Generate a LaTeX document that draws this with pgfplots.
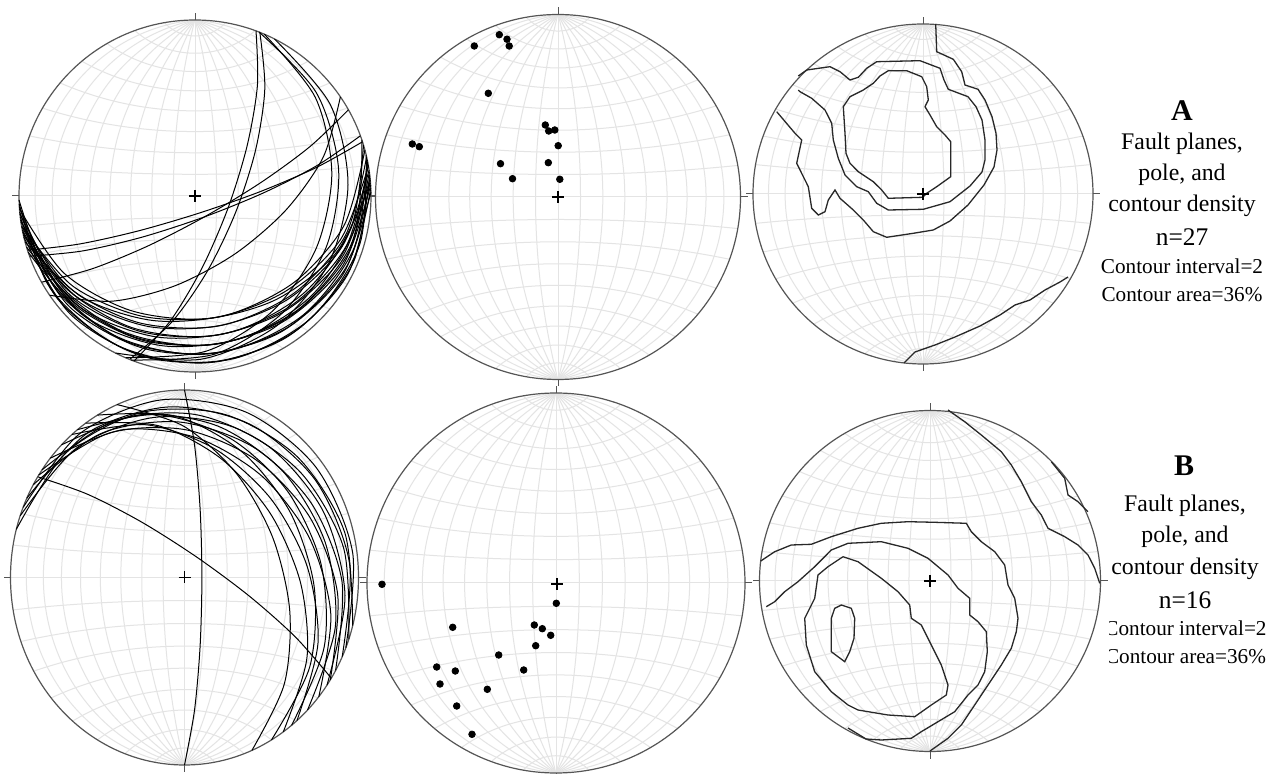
\documentclass[border=0pt]{standalone}
\usepackage{pgfplots}
\pgfplotsset{compat=1.18}
\usepackage{fontspec}
\setmainfont{Liberation Serif}
\definecolor{gridc}{RGB}{228,228,228}
\definecolor{primc}{RGB}{85,85,85}
\definecolor{contc}{RGB}{40,40,40}
\pgfplotsset{gc/.style={black, line width=0.5pt, smooth}, ct/.style={contc, line width=0.65pt}}
\newcommand{\mer}[6]{%
 \draw[gridc, line width=0.5pt] (axis cs:{#1-#5*#3},#2) ellipse [x radius={#6*#3}, y radius={#6*#4}];
 \draw[gridc, line width=0.5pt] (axis cs:{#1+#5*#3},#2) ellipse [x radius={#6*#3}, y radius={#6*#4}];}
\newcommand{\lat}[6]{%
 \draw[gridc, line width=0.5pt] (axis cs:#1,{#2-#5*#4}) ellipse [x radius={#6*#3}, y radius={#6*#4}];
 \draw[gridc, line width=0.5pt] (axis cs:#1,{#2+#5*#4}) ellipse [x radius={#6*#3}, y radius={#6*#4}];}
\newcommand{\net}[4]{%
 \fill[white] (axis cs:#1,#2) ellipse [x radius=#3, y radius=#4];
 \begin{scope}
 \clip (axis cs:#1,#2) ellipse [x radius=#3, y radius=#4];
 \mer{#1}{#2}{#3}{#4}{0.09551}{1.00455}\mer{#1}{#2}{#3}{#4}{0.21082}{1.02198}
 \mer{#1}{#2}{#3}{#4}{0.35355}{1.06066}\mer{#1}{#2}{#3}{#4}{0.53775}{1.13542}
 \mer{#1}{#2}{#3}{#4}{0.79187}{1.27557}\mer{#1}{#2}{#3}{#4}{1.18300}{1.54900}
 \mer{#1}{#2}{#3}{#4}{1.91320}{2.15880}\mer{#1}{#2}{#3}{#4}{3.99350}{4.11680}
 \lat{#1}{#2}{#3}{#4}{1.14590}{0.23686}\lat{#1}{#2}{#3}{#4}{1.33051}{0.51935}
 \lat{#1}{#2}{#3}{#4}{1.57312}{0.86601}\lat{#1}{#2}{#3}{#4}{1.90887}{1.31120}
 \lat{#1}{#2}{#3}{#4}{2.40742}{1.92373}\lat{#1}{#2}{#3}{#4}{3.23218}{2.86615}
 \lat{#1}{#2}{#3}{#4}{4.87189}{4.62631}\lat{#1}{#2}{#3}{#4}{9.77188}{9.64862}
 \draw[gridc, line width=0.5pt] (axis cs:#1,{#2-#4}) -- (axis cs:#1,{#2+#4});
 \draw[gridc, line width=0.5pt] (axis cs:{#1-#3},#2) -- (axis cs:{#1+#3},#2);
 \end{scope}
 \draw[primc, line width=0.6pt] (axis cs:#1,#2) ellipse [x radius=#3, y radius=#4];
 \draw[primc, line width=0.5pt] (axis cs:#1,{#2-#4}) -- (axis cs:#1,{#2-#4-7});
 \draw[primc, line width=0.5pt] (axis cs:#1,{#2+#4}) -- (axis cs:#1,{#2+#4+7});
 \draw[primc, line width=0.5pt] (axis cs:{#1-#3},#2) -- (axis cs:{#1-#3-7},#2);
 \draw[primc, line width=0.5pt] (axis cs:{#1+#3},#2) -- (axis cs:{#1+#3+7},#2);
}
\newcommand{\plus}[2]{%
 \draw[black, line width=0.55pt] (axis cs:{#1-6},#2) -- (axis cs:{#1+6},#2);
 \draw[black, line width=0.55pt] (axis cs:#1,{#2-6}) -- (axis cs:#1,{#2+6});}
\begin{document}
\begin{tikzpicture}
\begin{axis}[at={(0,0)}, anchor=south west, scale only axis,
  width=642.5pt, height=387pt, xmin=0, xmax=1285, ymin=0, ymax=774,
  y dir=reverse, hide axis, clip=false]
% ---------- text ----------
\node[anchor=base, font=\fontsize{15}{18}\selectfont\bfseries] at (axis cs:1182,121) {A};
\node[anchor=base, font=\fontsize{11.9}{14}\selectfont] at (axis cs:1182,150) {Fault planes,};
\node[anchor=base, font=\fontsize{11.9}{14}\selectfont] at (axis cs:1182,180.7) {pole, and};
\node[anchor=base, font=\fontsize{11.9}{14}\selectfont] at (axis cs:1182,211.7) {contour density};
\node[anchor=base, font=\fontsize{12.7}{15}\selectfont] at (axis cs:1182,246) {n=27};
\node[anchor=base, font=\fontsize{10.6}{13}\selectfont] at (axis cs:1182,274) {Contour interval=2};
\node[anchor=base, font=\fontsize{10.6}{13}\selectfont] at (axis cs:1182,301.7) {Contour area=36\%};
\node[anchor=base, font=\fontsize{15}{18}\selectfont\bfseries] at (axis cs:1184,476) {B};
\node[anchor=base, font=\fontsize{11.9}{14}\selectfont] at (axis cs:1185,511.7) {Fault planes,};
\node[anchor=base, font=\fontsize{11.9}{14}\selectfont] at (axis cs:1185,542.7) {pole, and};
\node[anchor=base, font=\fontsize{11.9}{14}\selectfont] at (axis cs:1185,574.3) {contour density};
\node[anchor=base, font=\fontsize{12.7}{15}\selectfont] at (axis cs:1185,608.3) {n=16};
\node[anchor=base, font=\fontsize{10.6}{13}\selectfont] at (axis cs:1185.5,635.7) {Contour interval=2};
\node[anchor=base, font=\fontsize{10.6}{13}\selectfont] at (axis cs:1185.5,663.3) {Contour area=36\%};
\fill[white] (axis cs:1093,600) rectangle (axis cs:1108.5,675);
% ---------- nets ----------
\net{195}{196}{176}{176}
\net{558}{197}{182.5}{182.5}
\net{923}{194}{170}{170}
\net{184.5}{577.5}{174}{187.5}
\net{556}{583}{189}{190}
\net{930}{581}{170.5}{170.5}
% ---------- A: fault planes (n=27) ----------
\addplot[gc] coordinates {(256.0,30.9) (257.4,85.5) (247.1,145.9) (228.0,208.2) (202.1,267.9) (170.6,320.5) (134.0,361.1)};
\addplot[gc] coordinates {(259.9,33.0) (264.8,88.9) (255.6,150.0) (235.7,212.2) (207.4,271.1) (172.0,321.8) (130.1,359.0)};
\addplot[gc] coordinates {(362.5,141.8) (316.7,167.3) (261.3,191.2) (200.4,212.7) (138.4,230.9) (79.5,244.0) (27.5,250.2)};
\addplot[gc] coordinates {(360.4,135.8) (316.8,165.7) (262.8,193.2) (202.8,217.5) (141.2,237.4) (82.2,251.0) (29.6,256.2)};
\addplot[gc] coordinates {(348.4,109.8) (310.2,146.4) (261.4,182.2) (206.2,215.9) (148.7,245.6) (92.7,268.6) (41.6,282.2)};
\addplot[gc] coordinates {(340.4,96.8) (323.3,157.0) (285.8,210.2) (234.7,254.1) (175.2,285.7) (112.0,301.2) (49.6,295.2)};
\addplot[gc] coordinates {(259.0,32.0) (316.4,92.8) (338.6,169.6) (326.2,247.2) (282.7,312.7) (214.4,354.2) (131.0,360.0)};
\addplot[gc] coordinates {(264.4,34.3) (315.3,97.4) (331.8,173.2) (316.3,248.1) (272.7,310.9) (206.4,351.1) (125.6,357.7)};
\addplot[gc] coordinates {(274.5,39.0) (330.2,104.4) (348.0,184.9) (328.5,263.6) (276.6,325.9) (201.2,359.2) (115.5,353.0)};
\addplot[gc] coordinates {(364.9,150.0) (344.0,225.6) (294.3,282.2) (227.2,314.9) (152.8,320.5) (81.4,296.8) (25.1,242.0)};
\addplot[gc] coordinates {(366.6,157) (345.5,235.3) (294.0,293.2) (224.3,324.7) (147.8,326.4) (76.3,296.5) (23.4,235)};
\addplot[gc] coordinates {(368.3,165) (346.4,245.7) (292.5,304.7) (219.8,334.6) (141.3,331.7) (70.2,295.1) (21.8,227)};
\addplot[gc] coordinates {(369.4,172) (347.3,255.0) (291.2,315.4) (215.4,344.2) (134.6,337.0) (64.3,294.0) (20.6,220)};
\addplot[gc] coordinates {(370.3,180) (347.5,265.0) (288.8,326.7) (209.4,353.7) (126.4,341.5) (57.5,291.4) (19.7,212)};
\addplot[gc] coordinates {(370.8,188) (347.6,274.6) (286.0,337.7) (202.6,363.0) (117.2,345.3) (50.2,288.2) (19.2,204)};
\addplot[gc] coordinates {(363.5,145) (351.2,227.6) (304.5,292.5) (235.8,330.8) (157.5,337.1) (82.6,309.0) (26.5,247)};
\addplot[gc] coordinates {(367.3,160) (354.5,247.0) (303.2,315.0) (227.4,351.1) (143.6,348.4) (69.3,306.6) (22.7,232)};
\addplot[gc] coordinates {(369.1,170) (342.2,246.5) (286.3,300.3) (214.5,326.6) (138.1,322.5) (69.0,287.3) (20.9,222)};
\addplot[gc] coordinates {(370.1,178) (342.3,256.9) (284.1,311.6) (209.4,336.1) (131.3,327.4) (63.1,285.5) (19.9,214)};
\addplot[gc] coordinates {(370.7,185) (342.5,266.2) (282.1,322.3) (204.4,345.3) (124.3,332.1) (57.5,284.0) (19.3,207)};
\addplot[gc] coordinates {(371.0,192) (342.5,275.2) (279.7,332.7) (198.6,354.4) (116.7,336.5) (51.3,281.8) (19.0,200)};
\addplot[gc] coordinates {(366.2,155) (359.7,244.5) (311.1,318.0) (234.0,358.6) (146.7,357.4) (70.1,313.9) (23.8,237)};
\addplot[gc] coordinates {(368.4,166) (340.6,239.4) (285.8,291.1) (216.0,317.4) (141.4,316.1) (72.4,285.8) (21.6,226)};
\addplot[gc] coordinates {(361.9,140) (355.6,225.7) (311.7,295.5) (242.6,337.8) (161.9,345.7) (84.8,316.5) (28.1,252)};
\addplot[gc] coordinates {(370.5,183) (335.7,253.4) (276.2,299.5) (204.1,318.9) (130.0,310.3) (64.3,273.4) (19.5,209)};
\addplot[gc] coordinates {(367.7,162) (350.4,246.1) (297.9,309.7) (223.9,342.8) (142.9,340.3) (70.2,301.3) (22.3,230)};
\addplot[gc] coordinates {(369.7,175) (353.0,263.1) (296.3,330.5) (215.0,362.0) (128.5,350.7) (57.4,298.7) (20.3,217)};
% ---------- A: poles ----------
\addplot[only marks, mark=*, mark size=1.65pt, black] coordinates {
(499.3,34.7) (507,39.2) (509.2,46) (474.3,46) (488.3,93.3) (545.3,125) (548.7,131)
(554.8,130) (558.2,145.7) (412.3,144) (419.3,146.7) (500.5,163.7) (548.3,162.7)
(512.5,178.7) (559.8,179.3)};
% ---------- A: contours ----------
\addplot[ct] coordinates {(888.3,70.7) (906.7,70.7) (921.7,76.7) (926.7,86.7) (928.3,100) (925,106.7) (930,115) (936.7,126.7) (945,135) (950.7,141.7) (950.7,176.7) (936.7,186.7) (926.7,193.3) (922.7,197.3) (888.3,198.3) (881.7,190) (873.3,181.7) (858.3,171.7) (850,163.3) (846,153.3) (845,133.3) (843.3,106.7) (850,96.7) (863.3,90) (873.3,83.3) (880,76) (888.3,70.7)};
\addplot[ct] coordinates {(798.3,76) (806.7,70) (830,66.7) (840,71.7) (850,80) (858.3,77.3) (866.7,68.3) (876.7,61.7) (920,60.7) (940,68.3) (944,80) (948.3,89.3) (968,96.7) (976,106.7) (982,120) (985,140) (985,160) (982,172) (970,186) (950,201.7) (923.3,209.3) (888.3,210) (876.7,203.3) (868.3,191.7) (856.7,186.7) (845,175) (838.3,158.3) (833.3,140) (831.7,123.3) (825,110) (811.7,98.3) (800,91.7) (798.3,90)};
\addplot[ct] coordinates {(935.7,24) (936.7,51.7) (953.3,59.3) (961.7,71.7) (965,85) (978,89.3) (985,100) (992,116.7) (996,133.3) (997,150) (994,167) (984,185) (968,205) (950,221) (933.3,230) (913.3,233.3) (886.7,237.3) (873.3,231.7) (863.3,220) (853.3,210) (840,198.3) (835,190) (828.3,200) (825,211.7) (818.3,215) (811.7,208.3) (808.3,186.7) (796.7,163.3) (801.7,140) (795,133.3) (776.7,111.7)};
\addplot[ct] coordinates {(904,363) (915,352) (935,345) (955,337) (980,326) (1000,315) (1015,305) (1030,300) (1045,290) (1060,282) (1068,277)};
% ---------- B: fault planes (n=16) ----------
\addplot[gc] coordinates {(184.5,390) (194.5,444.7) (200.1,508.7) (201.9,577.5) (200.1,646.3) (194.5,710.3) (184.5,765)};
\addplot[gc] coordinates {(37.7,476.8) (87.4,494.2) (141.5,522.0) (196.6,557.0) (249.3,596.1) (295.5,637.1) (331.3,678.2)};
\addplot[gc] coordinates {(117.1,404.6) (183.7,426.2) (236.5,473.6) (272.7,537.5) (289.7,610.2) (284.3,684.0) (251.9,750.4)};
\addplot[gc] coordinates {(85.7,423.2) (157.9,425.6) (221.3,458.8) (270.4,513.6) (300.5,582.6) (306.9,658.2) (283.3,731.8)};
\addplot[gc] coordinates {(72.0,434.5) (146.4,424.8) (215.2,449.1) (270.8,498.7) (307.0,565.9) (318.0,643.0) (297.0,720.5)};
\addplot[gc] coordinates {(50.2,458.2) (123.2,429.7) (197.3,438.0) (262.0,476.2) (309.1,537.4) (330.8,614.1) (318.8,696.8)};
\addplot[gc] coordinates {(38.7,475.1) (108.8,433.2) (185.4,429.7) (255.8,459.7) (309.6,516.9) (337.6,593.8) (330.3,679.9)};
\addplot[gc] coordinates {(33.4,484.6) (101.0,433.5) (179.3,422.0) (253.5,447.2) (311.3,503.2) (342.0,581.7) (335.6,670.4)};
\addplot[gc] coordinates {(20.2,515.8) (77.0,447.7) (153.4,417.5) (233.1,427.0) (301.0,472.9) (343.6,547.9) (348.8,639.2)};
\addplot[gc] coordinates {(16.3,529.3) (66.3,452.6) (141.8,412.4) (224.7,414.4) (297.6,457.0) (344.7,532.4) (352.7,625.7)};
\addplot[gc] coordinates {(26.8,498.3) (88.5,432.3) (169.3,406.9) (250.7,424.6) (315.5,480.3) (349.5,563.3) (342.2,656.7)};
\addplot[gc] coordinates {(23.2,507.3) (79.8,433.6) (161.0,399.9) (246.4,412.3) (316.0,467.3) (352.6,552.4) (345.8,647.7)};
\addplot[gc] coordinates {(42.0,469.9) (113.8,421.0) (195.1,414.5) (269.3,446.9) (323.1,511.1) (345.0,595.6) (327.0,685.1)};
\addplot[gc] coordinates {(61.5,444.9) (139.2,414.9) (217.6,426.0) (282.9,471.4) (325.0,541.8) (335.4,626.3) (307.5,710.1)};
\addplot[gc] coordinates {(77.4,429.7) (156.3,414.6) (229.8,438.1) (287.3,490.9) (321.0,563.9) (324.3,646.4) (291.6,725.3)};
\addplot[gc] coordinates {(97.5,415.1) (175.1,416.0) (241.8,451.7) (290.0,511.9) (314.2,586.9) (309.7,667.0) (271.5,739.9)};
% ---------- B: poles ----------
\addplot[only marks, mark=*, mark size=1.65pt, black] coordinates {
(382,584.3) (556.3,603.3) (452.7,627.3) (534.3,625) (542.3,628.7) (550.7,635.3)
(535.7,645.7) (498.7,655) (436.7,667) (455.3,671) (523.7,670) (440,684)
(487.3,689.3) (456.7,706) (472,734.3)};
% ---------- B: contours ----------
\addplot[ct] coordinates {(948,410) (964.7,421.7) (981.3,435) (1001.3,451.7) (1011.3,465) (1021.3,481.7) (1031.3,501.7) (1041.3,515) (1048,528.3) (1064.7,536.7) (1078,545) (1088,555) (1094.7,568.3) (1099.7,583.3)};
\addplot[ct] coordinates {(1051.3,461.7) (1064.7,478.3) (1068,495) (1078,501.7) (1088,511.7)};
\addplot[ct] coordinates {(760.7,561) (774.7,551.7) (791.3,545) (811.3,544.3) (831.3,536.7) (858,528.3) (881.3,523.3) (908,521.7) (934.7,522.3) (966.3,523.3) (971.3,531.7) (981.3,541.7) (994.7,551.7) (1004.7,565) (1008,585) (1014.7,598.3) (1018,618.3) (1016.3,631.7) (1011.3,648.3) (1001.3,665) (988,685) (974.7,705) (961.3,725) (948,738.3) (930,751)};
\addplot[ct] coordinates {(766.3,606.7) (774.7,601.7) (784.7,591.7) (798,581.7) (814.7,566.7) (831.3,550) (848,543.3) (881.3,541.7) (908,548.3) (928,558.3) (948,575) (958,588.3) (969.7,598.3) (969.7,615) (978,621.7) (986.3,631.7) (987.3,651.7) (984.7,671.7) (978,685) (968,695) (954.7,711.7) (938,721.7) (921.3,731.7) (911.3,738.3) (881.3,740) (866,739) (848,728)};
\addplot[ct] coordinates {(843,556.7) (858,561.7) (881.3,578.3) (898,591.7) (909.7,605) (911.3,618.3) (921.3,625) (931.3,645) (941.3,665) (948,685) (946.3,695) (931.3,705) (914.7,716.7) (888,715) (858,710) (848,705) (831.3,691.7) (814.7,671.7) (806.3,645) (804.7,618.3) (814.7,598.3) (818,575) (828,566.7) (843,556.7)};
\addplot[ct] coordinates {(841.3,605) (851.3,608.3) (854.7,618.3) (854,638.3) (849.7,651.7) (844.7,661.7) (838,656.7) (831.3,651.7) (831.3,618.3) (834.7,608.3) (841.3,605)};
\plus{195}{196}
\plus{558}{197}
\plus{923}{194}
\plus{184.5}{577.5}
\plus{557}{584}
\plus{930}{581}
\end{axis}
\pgfresetboundingbox
\path[use as bounding box] (0,0) rectangle (642.5pt,387pt);
\end{tikzpicture}
\end{document}
